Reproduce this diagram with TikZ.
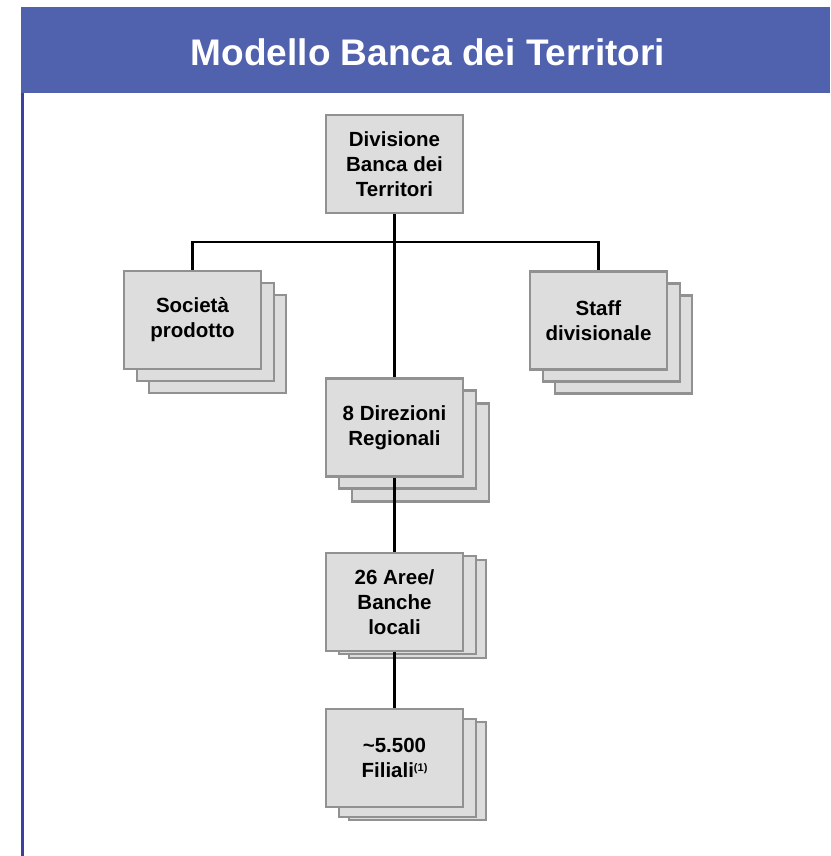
\documentclass[tikz,border=0pt]{standalone}
\usepackage{fontspec}
\setmainfont{Liberation Sans}
\definecolor{hdr}{RGB}{80,98,174}
\definecolor{sideline}{RGB}{58,63,160}
\definecolor{boxfill}{RGB}{221,221,221}
\definecolor{boxline}{RGB}{145,145,145}
\begin{document}
\begin{tikzpicture}[x=1pt,y=-1pt,
 orgbox/.style={draw=boxline, line width=2.5pt, fill=boxfill, minimum width=137pt, minimum height=98pt, inner sep=0pt, align=center, font=\fontsize{20.5}{25}\selectfont\bfseries},
 backbox/.style={orgbox},
 link/.style={line width=2.2pt, black}]
\useasboundingbox (0,0) rectangle (830,856);
\fill[hdr] (21,7) rectangle (830,93);
\node[text=white, font=\fontsize{37}{40}\selectfont\bfseries] (title) at (428,52) {Modello Banca dei Territori};
\draw[sideline, line width=3pt] (22.5,93) -- (22.5,856);

% top
\node[orgbox] (top) at (394.5,164) {Divisione\\Banca dei\\Territori};

% Societa prodotto
\node[backbox] (soc3) at (217.5,344) {};
\node[backbox] (soc2) at (205.5,332) {};
\node[orgbox] (soc) at (192.5,320) {Società\\prodotto};

% Staff divisionale
\node[backbox] (staff3) at (623.5,344.5) {};
\node[backbox] (staff2) at (611.5,332.5) {};
\node[orgbox] (staff) at (598.5,320.5) {Staff\\divisionale};

% 8 Direzioni Regionali
\node[backbox] (dir3) at (420.5,452.5) {};
\node[backbox] (dir2) at (407.5,439.5) {};
\node[orgbox] (dir) at (394.5,427.5) {8 Direzioni\\Regionali};

% 26 Aree
\node[backbox] (aree3) at (417.5,609) {};
\node[backbox] (aree2) at (407.5,605) {};
\node[orgbox] (aree) at (394.5,602) {26 Aree/\\Banche\\locali};

% Filiali
\node[backbox] (fil3) at (417.5,771) {};
\node[backbox] (fil2) at (407.5,768) {};
\node[orgbox] (fil) at (394.5,758) {\textasciitilde5.500\\Filiali\raisebox{6pt}{\fontsize{11}{11}\selectfont(1)}};

% connectors
\coordinate (j) at (394.5,242);
\draw[link] (soc.north) -- (soc.north |- j) -- (staff.north |- j) -- (staff.north);
\draw[link] (top.south) -- (dir.north);
\draw[link] (dir.south) -- (aree.north);
\draw[link] (aree.south) -- (fil.north);
\end{tikzpicture}
\end{document}
